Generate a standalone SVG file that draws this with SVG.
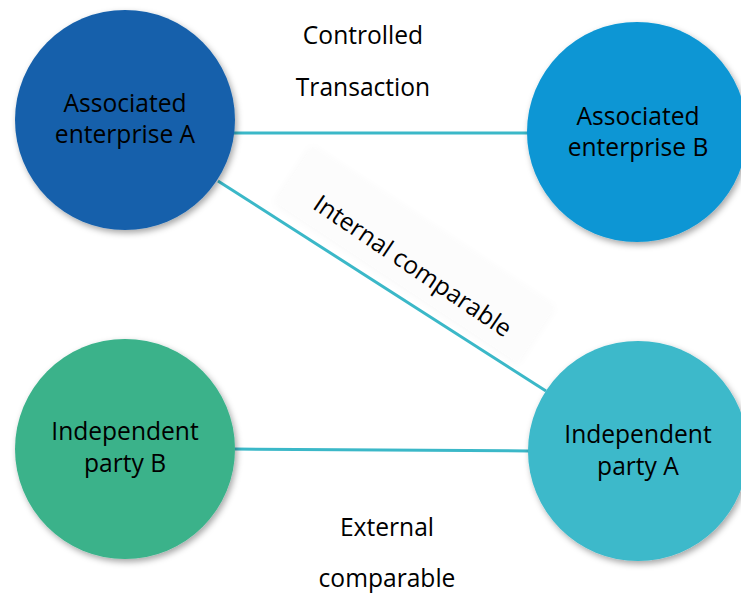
<svg xmlns="http://www.w3.org/2000/svg" width="741" height="594" viewBox="0 0 741 594">
  <defs>
    <filter id="shadow" x="-20%" y="-20%" width="140%" height="140%">
      <feDropShadow dx="2" dy="3" stdDeviation="3" flood-color="#000" flood-opacity="0.35"/>
    </filter>
    <filter id="softshadow" x="-20%" y="-40%" width="140%" height="180%">
      <feDropShadow dx="0" dy="1" stdDeviation="4" flood-color="#000" flood-opacity="0.03"/>
    </filter>
    <style>
      .lbl { font-family: "Open Sans", "Noto Sans", "Liberation Sans", sans-serif; font-size: 24.6px; fill: #000; text-anchor: middle; }
      .edge { stroke: #3BB8C8; stroke-width: 3; fill: none; }
      .node circle { filter: url(#shadow); }
    </style>
  </defs>
  <rect width="741" height="594" fill="#ffffff"/>

  <g id="connectors">
    <rect x="-145" y="-42" width="290" height="66" fill="#fcfcfc" filter="url(#softshadow)" transform="translate(410,262) rotate(33.5)"/>
    <line class="edge" x1="234" y1="133" x2="528" y2="133"/>
    <line class="edge" x1="218" y1="181" x2="546" y2="391"/>
    <line class="edge" x1="235" y1="449" x2="529" y2="451"/>
    <text class="lbl" x="363" y="44">Controlled</text>
    <text class="lbl" x="363" y="96">Transaction</text>
    <text class="lbl" transform="translate(408,273) rotate(34)" x="0" y="0">Internal comparable</text>
    <text class="lbl" x="387" y="536">External</text>
    <text class="lbl" x="387" y="587">comparable</text>
  </g>

  <g id="node-associated-a" class="node">
    <circle cx="125" cy="120" r="110" fill="#1761AB"/>
    <text class="lbl" x="125" y="112">Associated</text>
    <text class="lbl" x="125" y="143">enterprise A</text>
  </g>

  <g id="node-associated-b" class="node">
    <circle cx="637" cy="132" r="110" fill="#0996D4"/>
    <text class="lbl" x="638" y="125">Associated</text>
    <text class="lbl" x="638" y="156">enterprise B</text>
  </g>

  <g id="node-independent-b" class="node">
    <circle cx="125" cy="449" r="110" fill="#3AB28A"/>
    <text class="lbl" x="125" y="440">Independent</text>
    <text class="lbl" x="125" y="472">party B</text>
  </g>

  <g id="node-independent-a" class="node">
    <circle cx="638" cy="451" r="110" fill="#3CB9CA"/>
    <text class="lbl" x="638" y="443">Independent</text>
    <text class="lbl" x="638" y="475">party A</text>
  </g>
</svg>
